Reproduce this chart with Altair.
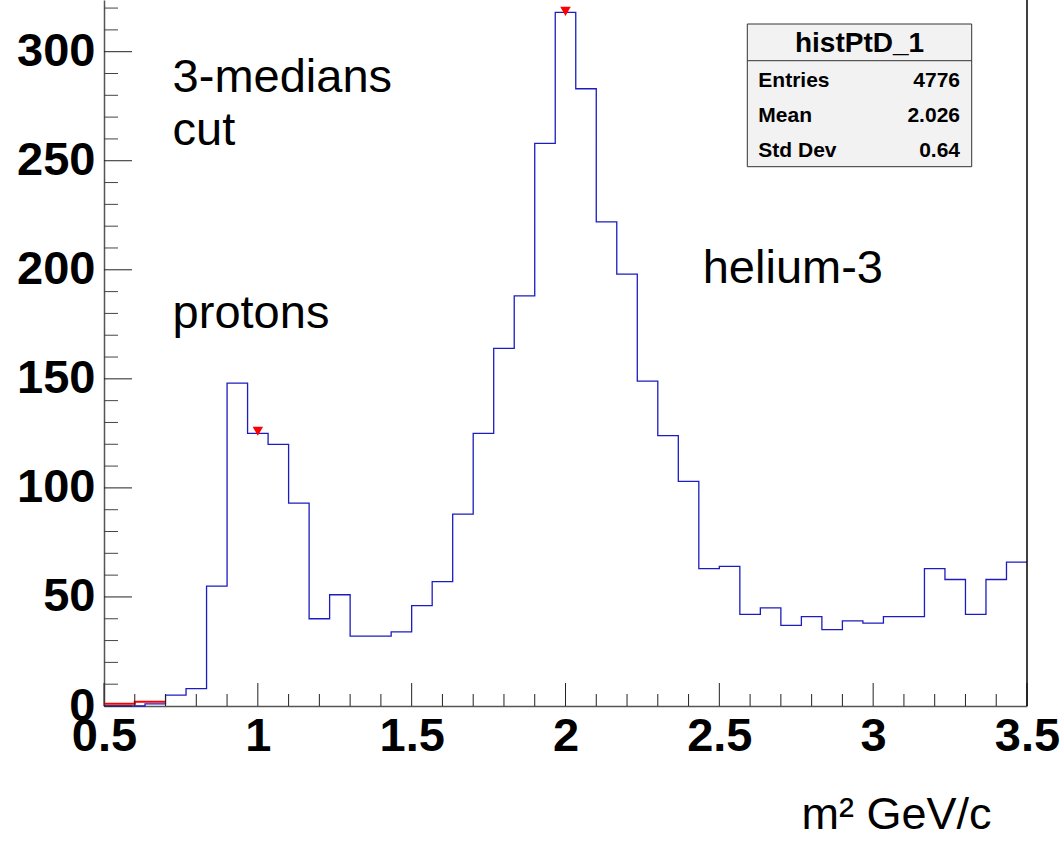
import altair as alt
import pandas as pd

# ---------------- data ----------------
x_min, x_max = 0.5, 3.5
n_bins = 45
bin_lo = [x_min + i * (x_max - x_min) / n_bins for i in range(n_bins)]
counts = [0, 0, 1, 5, 8, 55, 148, 125, 120, 93,
          40, 51, 32, 32, 34, 46, 57, 88, 125, 164,
          188, 258, 318, 283, 222, 198, 149, 124, 103, 63,
          64, 42, 45, 37, 41, 35, 39, 38, 41, 41,
          63, 58, 42, 58, 66]

red_x = [0.5, 0.6, 0.7]
red_y = [1, 2, 2]

peak_x = [1.0, 2.0]
peak_y = [126, 318.5]

x_major = [0.5, 1.0, 1.5, 2.0, 2.5, 3.0, 3.5]
x_minor = [round(0.5 + 0.1 * i, 2) for i in range(31) if i % 5 != 0]
y_major = [0, 50, 100, 150, 200, 250, 300]
y_minor = [v for v in range(10, 330, 10) if v % 50 != 0]

notes_text = ["3-medians", "cut", "protons", "helium-3"]
notes_x = [0.723, 0.723, 0.723, 2.446]
notes_y = [281.7, 257.2, 173.2, 193.8]

stats_title = "histPtD_1"
stats_names = ["Entries", "Mean", "Std Dev"]
stats_vals = ["4776", "2.026", "0.64"]

# ---------------- chart ----------------
W, H = 923, 706
FONT = "Liberation Sans"
xscale = alt.Scale(domain=[x_min, x_max], nice=False, zero=False)
yscale = alt.Scale(domain=[0, 323.7], nice=False, zero=True)

x_axis = alt.Axis(
    values=x_major, labelExpr="'' + datum.value", ticks=False, grid=False,
    domain=True, domainColor="#555555", domainWidth=1.5,
    labelFont=FONT, labelFontWeight="bold", labelFontSize=47, labelColor="black",
    labelPadding=7, labelOverlap=False, labelFlush=False,
    title="m² GeV/c", titleFont=FONT, titleFontSize=45, titleFontWeight="normal",
    titleColor="black", titleAlign="right", titleBaseline="alphabetic",
    titleX=887, titleY=122)
y_axis = alt.Axis(
    values=y_major, ticks=False, grid=False,
    domain=True, domainColor="#555555", domainWidth=1.5,
    labelFont=FONT, labelFontWeight="bold", labelFontSize=47, labelColor="black",
    labelPadding=9, labelOverlap=False, labelFlush=False, title="")


def X(f):
    return alt.X(f, scale=xscale, axis=x_axis)


def Y(f):
    return alt.Y(f, scale=yscale, axis=y_axis)


hist_df = pd.DataFrame({"x": bin_lo + [x_max], "y": counts + [counts[-1]]})
hist = alt.Chart(hist_df).mark_line(
    interpolate="step-after", color="#1c1cc0", strokeWidth=1.3
).encode(x=X("x:Q"), y=Y("y:Q"))

red_df = pd.DataFrame({"x": red_x, "y": red_y})
red = alt.Chart(red_df).mark_line(
    interpolate="step-after", color="#ff0000", strokeWidth=2
).encode(x=X("x:Q"), y=Y("y:Q"))

peaks_df = pd.DataFrame({"x": peak_x, "y": peak_y})
peaks = alt.Chart(peaks_df).mark_point(
    shape="triangle-down", filled=True, color="#ff0000", size=110, opacity=1
).encode(x=X("x:Q"), y=Y("y:Q"))

# inward ticks
ytm = alt.Chart(pd.DataFrame({"v": y_major})).mark_rule(color="#222222", strokeWidth=1).encode(
    y=Y("v:Q"), x=alt.value(0), x2=alt.value(28))
ytn = alt.Chart(pd.DataFrame({"v": y_minor})).mark_rule(color="#444444", strokeWidth=1).encode(
    y=Y("v:Q"), x=alt.value(0), x2=alt.value(14))
xtm = alt.Chart(pd.DataFrame({"v": x_major})).mark_rule(color="#222222", strokeWidth=1).encode(
    x=X("v:Q"), y=alt.value(H), y2=alt.value(H - 23))
xtn = alt.Chart(pd.DataFrame({"v": x_minor})).mark_rule(color="#222222", strokeWidth=1).encode(
    x=X("v:Q"), y=alt.value(H), y2=alt.value(H - 12))

one = pd.DataFrame({"a": [0]})
right_frame = alt.Chart(one).mark_rule(color="black", strokeWidth=1.5).encode(
    x=alt.value(W), y=alt.value(0), y2=alt.value(H))

notes_df = pd.DataFrame({"x": notes_x, "y": notes_y, "t": notes_text})
notes = alt.Chart(notes_df).mark_text(
    align="left", baseline="alphabetic", font=FONT, fontSize=47, color="black"
).encode(x=X("x:Q"), y=Y("y:Q"), text="t:N")

# stats box
bx0, bx1, by0, by1, bsep = 643.3, 867.7, 24, 166.7, 60.7
box = alt.Chart(one).mark_rect(fill="#f2f2f2", stroke="#333333", strokeWidth=1).encode(
    x=alt.value(bx0), x2=alt.value(bx1), y=alt.value(by0), y2=alt.value(by1))
sep = alt.Chart(one).mark_rule(color="#333333", strokeWidth=1).encode(
    x=alt.value(bx0), x2=alt.value(bx1), y=alt.value(bsep))
box_title = alt.Chart(pd.DataFrame({"t": [stats_title]})).mark_text(
    align="center", baseline="alphabetic", font=FONT, fontWeight="bold", fontSize=28, color="black"
).encode(x=alt.value((bx0 + bx1) / 2), y=alt.value(51.7), text="t:N")

row_y = [86.5, 121.7, 156.7]
stat_layers = []
for name, val, yy in zip(stats_names, stats_vals, row_y):
    d = pd.DataFrame({"n": [name], "v": [val]})
    stat_layers.append(alt.Chart(d).mark_text(
        align="left", baseline="alphabetic", font=FONT, fontWeight="bold", fontSize=21, color="black"
    ).encode(x=alt.value(654.3), y=alt.value(yy), text="n:N"))
    stat_layers.append(alt.Chart(d).mark_text(
        align="right", baseline="alphabetic", font=FONT, fontWeight="bold", fontSize=21, color="black"
    ).encode(x=alt.value(856), y=alt.value(yy), text="v:N"))

chart = alt.layer(
    hist, red, peaks, ytm, ytn, xtm, xtn, right_frame, notes, box, sep, box_title, *stat_layers
).properties(
    width=W, height=H,
    autosize=alt.AutoSizeParams(type="none"),
    padding={"left": 104, "top": 0, "right": 33, "bottom": 137},
    background="white",
).configure_view(stroke=None)

chart.save("out.html", embed_options={"renderer": "svg", "actions": False})
